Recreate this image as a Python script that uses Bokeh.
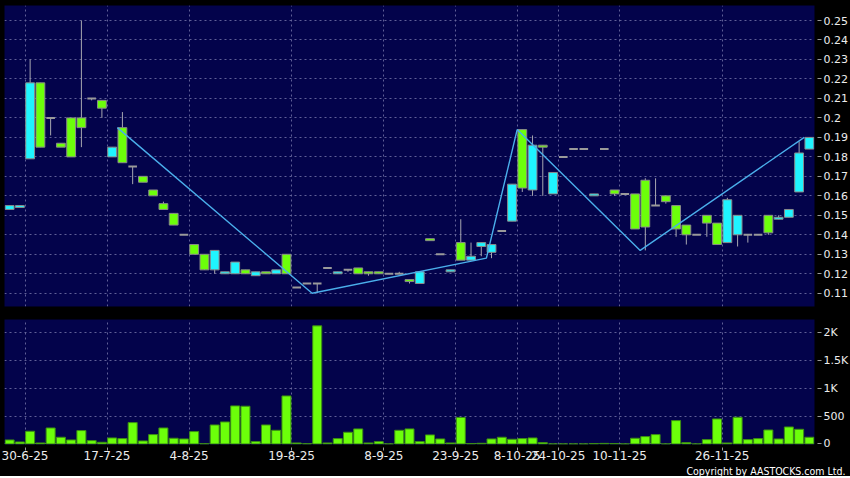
import numpy as np
from bokeh.plotting import figure
from bokeh.layouts import column
from bokeh.models import Range1d, FixedTicker, CustomJSTickFormatter, Title, ColumnDataSource
from bokeh.embed import file_html
from bokeh.resources import INLINE

# ---------------- data ----------------
opens = [0.153, 0.154, 0.179, 0.218, 0.200, 0.187, 0.200, 0.200, 0.210, 0.209,
         0.180, 0.195, 0.175, 0.170, 0.163, 0.156, 0.151, 0.140, 0.135, 0.130,
         0.122, 0.120, 0.120, 0.122, 0.119, 0.121, 0.120, 0.130, 0.113, 0.115,
         0.115, 0.123, 0.120, 0.122, 0.123, 0.121, 0.121, 0.120, 0.120, 0.117,
         0.115, 0.138, 0.130, 0.121, 0.136, 0.127, 0.134, 0.131, 0.142, 0.147,
         0.194, 0.163, 0.186, 0.161, 0.180, 0.184, 0.184, 0.160, 0.184, 0.163,
         0.161, 0.161, 0.168, 0.155, 0.160, 0.155, 0.145, 0.140, 0.150, 0.146,
         0.136, 0.140, 0.140, 0.140, 0.150, 0.148, 0.149, 0.162, 0.184]
highs = [0.155, 0.155, 0.230, 0.218, 0.200, 0.187, 0.200, 0.250, 0.210, 0.209,
         0.185, 0.203, 0.175, 0.170, 0.163, 0.157, 0.151, 0.140, 0.135, 0.130,
         0.132, 0.121, 0.126, 0.122, 0.121, 0.121, 0.122, 0.130, 0.113, 0.115,
         0.115, 0.123, 0.121, 0.122, 0.123, 0.121, 0.121, 0.120, 0.121, 0.117,
         0.121, 0.138, 0.130, 0.122, 0.148, 0.136, 0.136, 0.135, 0.142, 0.166,
         0.194, 0.191, 0.186, 0.172, 0.180, 0.184, 0.184, 0.161, 0.184, 0.163,
         0.161, 0.161, 0.169, 0.169, 0.160, 0.155, 0.145, 0.140, 0.150, 0.146,
         0.159, 0.150, 0.140, 0.140, 0.150, 0.150, 0.153, 0.188, 0.190]
lows = [0.153, 0.154, 0.179, 0.185, 0.191, 0.185, 0.180, 0.185, 0.209, 0.200,
        0.180, 0.177, 0.166, 0.167, 0.160, 0.153, 0.145, 0.140, 0.130, 0.122,
        0.120, 0.120, 0.120, 0.120, 0.119, 0.120, 0.120, 0.120, 0.113, 0.115,
        0.110, 0.123, 0.120, 0.121, 0.120, 0.119, 0.120, 0.120, 0.120, 0.115,
        0.115, 0.137, 0.130, 0.121, 0.127, 0.127, 0.129, 0.128, 0.142, 0.147,
        0.162, 0.160, 0.160, 0.161, 0.180, 0.184, 0.184, 0.160, 0.184, 0.160,
        0.161, 0.143, 0.132, 0.155, 0.156, 0.139, 0.135, 0.140, 0.139, 0.135,
        0.136, 0.134, 0.136, 0.140, 0.140, 0.148, 0.149, 0.162, 0.184]
closes = [0.155, 0.155, 0.218, 0.185, 0.200, 0.185, 0.180, 0.195, 0.210, 0.205,
          0.185, 0.177, 0.175, 0.167, 0.160, 0.153, 0.145, 0.140, 0.130, 0.122,
          0.132, 0.121, 0.126, 0.120, 0.121, 0.120, 0.122, 0.120, 0.113, 0.115,
          0.115, 0.123, 0.121, 0.122, 0.120, 0.120, 0.120, 0.120, 0.120, 0.116,
          0.121, 0.137, 0.130, 0.122, 0.127, 0.129, 0.136, 0.135, 0.142, 0.166,
          0.164, 0.186, 0.185, 0.172, 0.180, 0.184, 0.184, 0.161, 0.184, 0.161,
          0.161, 0.143, 0.144, 0.155, 0.157, 0.143, 0.140, 0.140, 0.146, 0.135,
          0.158, 0.150, 0.140, 0.140, 0.141, 0.149, 0.153, 0.182, 0.190]
volumes = [72, 36, 228, 18, 287, 120, 72, 240, 60, 30,
           108, 96, 383, 54, 168, 287, 102, 90, 222, 3,
           341, 395, 683, 677, 42, 341, 245, 862, 18, 3,
           2120, 18, 96, 210, 270, 18, 42, 0, 245, 270,
           42, 162, 90, 18, 476, 6, 12, 90, 120, 84,
           96, 108, 24, 0, 0, 0, 0, 6, 10, 6,
           0, 102, 132, 168, 0, 419, 24, 0, 78, 449,
           18, 479, 78, 96, 251, 90, 305, 263, 120]

# zig-zag trend line: candle index and price of each turning point
zz_index = [11, 30, 47, 50, 62, 78]
zz_price = [0.195, 0.110, 0.128, 0.194, 0.132, 0.190]

tick_index = [2, 10, 18, 28, 37, 44, 50, 54, 60, 70]
tick_labels = ["30-6-25", "17-7-25", "4-8-25", "19-8-25", "8-9-25",
               "23-9-25", "8-10-25", "24-10-25", "10-11-25", "26-11-25"]
price_ticks = [0.11, 0.12, 0.13, 0.14, 0.15, 0.16, 0.17, 0.18, 0.19, 0.20,
               0.21, 0.22, 0.23, 0.24, 0.25]
volume_ticks = [0, 500, 1000, 1500, 2000]

# ---------------- styling ----------------
BG = "#03034b"
CYAN = "#1ff4ff"
GREEN = "#6cff0a"
GRID = "#6a6aa0"
WICK = "#a8a8b0"
TEXT = "#ececec"
FONT = "DejaVu Sans"

n = len(opens)
xs = np.arange(n) + 0.5
o = np.array(opens); c = np.array(closes)
up = c > o
flat = c == o

body = ColumnDataSource(dict(
    x=xs[~flat], top=np.maximum(o, c)[~flat], bottom=np.minimum(o, c)[~flat],
    color=[CYAN if u else GREEN for u in up[~flat]]))
dash = ColumnDataSource(dict(x0=xs[flat] - 0.42, x1=xs[flat] + 0.42, y=o[flat]))
wick = ColumnDataSource(dict(x=xs, hi=highs, lo=lows))

common = dict(output_backend="svg", toolbar_location=None, min_border_left=4,
              min_border_right=0, background_fill_color=BG,
              border_fill_color="black", outline_line_color=None)

FW = 810
x_range = Range1d(0, 79)

p1 = figure(frame_width=FW, frame_height=301, x_range=x_range,
            y_range=Range1d(0.1032, 0.2577), y_axis_location="right",
            min_border_top=5, min_border_bottom=6, **common)

p2 = figure(frame_width=FW, frame_height=125, x_range=x_range,
            y_range=Range1d(-10, 2234), y_axis_location="right",
            min_border_top=7, min_border_bottom=0, **common)


def style_axis(ax, size="11px"):
    ax.axis_line_color = None
    ax.major_tick_line_color = "#9a9a9a"
    ax.major_tick_out = 7
    ax.major_tick_in = -3
    ax.minor_tick_line_color = None
    ax.major_label_text_color = TEXT
    ax.major_label_text_font = FONT
    ax.major_label_text_font_size = size
    ax.major_label_standoff = 2


def style_grid(g):
    g.grid_line_color = GRID
    g.grid_line_dash = "2 3"
    g.grid_line_alpha = 0.9


# price panel
p1.yaxis.ticker = FixedTicker(ticks=price_ticks)
p1.yaxis.formatter = CustomJSTickFormatter(code="return tick.toFixed(2).replace(/0$/, '')")
style_axis(p1.yaxis[0])
# x axis kept (for its grid) but drawn with no size
p1.xaxis.ticker = FixedTicker(ticks=tick_index)
p1.xaxis.axis_line_color = None
p1.xaxis.major_tick_line_color = None
p1.xaxis.minor_tick_line_color = None
p1.xaxis.major_tick_out = 0
p1.xaxis.major_tick_in = 0
p1.xaxis.minor_tick_out = 0
p1.xaxis.major_label_standoff = 0
p1.xaxis.major_label_text_font_size = "0px"
p1.xaxis.major_label_text_alpha = 0
style_grid(p1.xgrid[0])
style_grid(p1.ygrid[0])

p1.segment(x0="x", y0="lo", x1="x", y1="hi", source=wick, line_color=WICK, line_width=1)
p1.vbar(x="x", top="top", bottom="bottom", width=0.86, source=body,
        fill_color="color", line_color="#8a8a8a", line_width=1)
p1.segment(x0="x0", y0="y", x1="x1", y1="y", source=dash, line_color="#9a9a9a", line_width=2)
p1.line(x=zz_index, y=zz_price, line_color="#4aaeea", line_width=1.4)

# volume panel
p2.yaxis.ticker = FixedTicker(ticks=volume_ticks)
p2.yaxis.formatter = CustomJSTickFormatter(
    code="return tick >= 1000 ? (tick / 1000) + 'K' : tick.toString()")
style_axis(p2.yaxis[0])
p2.xaxis.ticker = FixedTicker(ticks=tick_index)
p2.xaxis.major_label_overrides = dict(zip(tick_index, tick_labels))
style_axis(p2.xaxis[0], "12px")
p2.xaxis.major_tick_in = -3
p2.xaxis.major_tick_out = 6
p2.xaxis.major_label_standoff = 0
style_grid(p2.xgrid[0])
style_grid(p2.ygrid[0])

p2.vbar(x=xs, top=volumes, bottom=0, width=0.88, fill_color=GREEN, line_color="#3c8c14")

p2.add_layout(Title(text="Copyright by AASTOCKS.com Ltd.", align="right",
                    text_color="white", text_font="DejaVu Sans Condensed",
                    text_font_size="10.5px", text_font_style="normal",
                    standoff=0, offset=-31), "below")

layout = column(p1, p2, spacing=0, styles={"background-color": "black"})
open("out.html", "w").write(file_html(layout, INLINE))
